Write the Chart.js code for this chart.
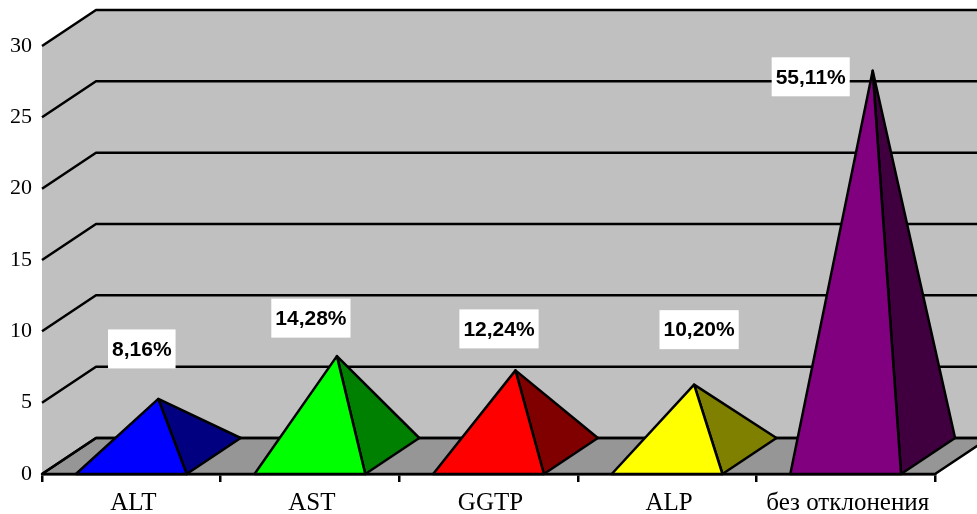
<!DOCTYPE html>
<html lang="ru">
<head>
	<meta charset="utf-8">
	<title>Отклонения показателей</title>
	<style>
html, body {
	margin: 0;
	padding: 0;
	background: #fff;
}
#chartWrapper {
	width: 977px;
	height: 514px;
}
	</style>
</head>
<body>

<div id="chartWrapper">
	<canvas id="myChart"></canvas>
</div>

<script src="https://cdn.jsdelivr.net/npm/chart.js"></script>
<script>
const categories = ['ALT', 'AST', 'GGTP', 'ALP', 'без отклонения'];
const counts = [4, 7, 6, 5, 27];
const percentLabels = ['8,16%', '14,28%', '12,24%', '10,20%', '55,11%'];
const yTicks = [0, 5, 10, 15, 20, 25, 30];

const frontColors = ['#0000ff', '#00ff00', '#ff0000', '#ffff00', '#800080'];
const sideColors = ['#000080', '#008000', '#800000', '#808000', '#400040'];

// depth of the fake 3D box
const depthX = 54;
const depthY = 36;
const lineW = 2.5;
// where each white label box sits, relative to the tip of its pyramid
const labelOffsets = [[-16.5, -50], [-26, -38], [-16.5, -41.5], [5, -55], [-62, 6]];

function poly(ctx, pts, fill) {
	ctx.beginPath();
	ctx.moveTo(pts[0][0], pts[0][1]);
	for (let p of pts.slice(1)) {
		ctx.lineTo(p[0], p[1]);
	}
	ctx.closePath();
	if (fill) {
		ctx.fillStyle = fill;
		ctx.fill();
	}
	ctx.stroke();
}

const box3d = {
	id: 'box3d',
	// walls, floor and the slanted grid lines
	beforeDatasetsDraw(chart) {
		const ctx = chart.ctx;
		const y = chart.scales.y;
		const { left, right, top, bottom } = chart.chartArea;
		ctx.save();
		ctx.fillStyle = '#c0c0c0';
		ctx.beginPath();
		ctx.moveTo(left, top);
		ctx.lineTo(left + depthX, top - depthY);
		ctx.lineTo(right + depthX, top - depthY);
		ctx.lineTo(right + depthX, bottom - depthY);
		ctx.lineTo(left + depthX, bottom - depthY);
		ctx.lineTo(left, bottom);
		ctx.closePath();
		ctx.fill();

		ctx.strokeStyle = '#000';
		ctx.lineWidth = lineW;
		ctx.lineJoin = 'round';
		poly(ctx, [
			[left, bottom],
			[left + depthX, bottom - depthY],
			[right + depthX, bottom - depthY],
			[right, bottom]
		], '#969696');

		for (let v of yTicks) {
			const py = y.getPixelForValue(v);
			ctx.beginPath();
			ctx.moveTo(left, py);
			ctx.lineTo(left + depthX, py - depthY);
			ctx.lineTo(right + depthX, py - depthY);
			ctx.stroke();
		}
		ctx.restore();
	},
	// pyramids are built on the bar elements so they follow the scales
	afterDatasetsDraw(chart) {
		const ctx = chart.ctx;
		const bars = chart.getDatasetMeta(0).data;
		ctx.save();
		ctx.strokeStyle = '#000';
		ctx.lineWidth = lineW;
		ctx.lineJoin = 'round';
		bars.forEach((bar, i) => {
			const l = bar.x - bar.width / 2;
			const r = bar.x + bar.width / 2;
			const tip = [bar.x + depthX / 2, bar.y - depthY / 2];
			poly(ctx, [[r, bar.base], [r + depthX, bar.base - depthY], tip], sideColors[i]);
			poly(ctx, [[l, bar.base], [r, bar.base], tip], frontColors[i]);
		});
		ctx.restore();

		ctx.save();
		ctx.font = 'bold 21px "Liberation Sans"';
		ctx.textAlign = 'center';
		ctx.textBaseline = 'middle';
		bars.forEach((bar, i) => {
			const cx = bar.x + depthX / 2 + labelOffsets[i][0];
			const cy = bar.y - depthY / 2 + labelOffsets[i][1];
			const w = ctx.measureText(percentLabels[i]).width + 8;
			ctx.fillStyle = '#fff';
			ctx.fillRect(cx - w / 2, cy - 19.5, w, 39);
			ctx.fillStyle = '#000';
			ctx.fillText(percentLabels[i], cx, cy + 1);
		});
		ctx.restore();
	}
};

const chartCtx = document.getElementById('myChart');

new Chart(chartCtx, {
	type: 'bar',
	plugins: [box3d],
	data: {
		labels: categories,
		datasets: [{
			data: counts,
			backgroundColor: 'transparent',
			borderWidth: 0,
			categoryPercentage: 1,
			barPercentage: 0.62
		}]
	},
	options: {
		responsive: true,
		maintainAspectRatio: false,
		animation: false,
		layout: {
			padding: { top: 46, right: 42 }
		},
		plugins: {
			legend: { display: false },
			tooltip: { enabled: false }
		},
		scales: {
			x: {
				afterFit(scale) { scale.height = 40; },
				border: { display: true, color: '#000', width: lineW },
				grid: {
					display: true,
					drawOnChartArea: false,
					drawTicks: true,
					tickLength: 8,
					color: '#000',
					lineWidth: lineW
				},
				ticks: {
					color: '#000',
					padding: 6,
					maxRotation: 0,
					labelOffset: 2,
					font: { family: '"Liberation Serif"', size: 25 }
				}
			},
			y: {
				min: 0,
				max: 30,
				afterFit(scale) { scale.width = 42; },
				afterBuildTicks(scale) { scale.ticks = yTicks.map(v => ({ value: v })); },
				border: { display: false },
				grid: { display: false },
				ticks: {
					color: '#000',
					padding: 2,
					font: { family: '"Liberation Serif"', size: 22 }
				}
			}
		}
	}
});
</script>
</body>
</html>
